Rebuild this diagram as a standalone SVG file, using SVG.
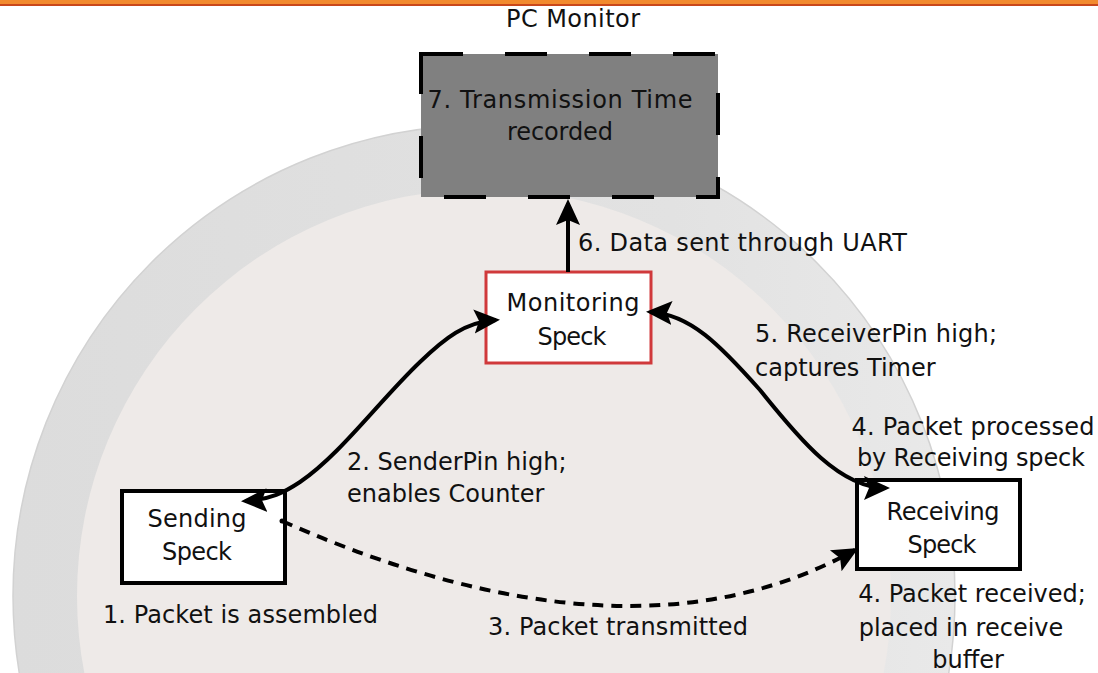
<svg xmlns="http://www.w3.org/2000/svg" width="1098" height="673" viewBox="0 0 1098 673">
<style>
  text { font-family: "DejaVu Sans", "Liberation Sans", sans-serif; font-size: 24px; fill: #111; }
  .mid { text-anchor: middle; }
  .box { fill: #fff; stroke: #000; stroke-width: 4; }
  .conn { fill: none; stroke: #000; stroke-width: 4; }
</style>
<defs>
  <linearGradient id="ring" x1="0" y1="0" x2="1" y2="0">
    <stop offset="0" stop-color="#dcdcdc"/>
    <stop offset="0.7" stop-color="#e2e2e2"/>
    <stop offset="1" stop-color="#e9e9e9"/>
  </linearGradient>
  <marker id="ah" markerUnits="userSpaceOnUse" markerWidth="28" markerHeight="28" refX="22" refY="12" orient="auto-start-reverse" viewBox="0 0 28 24">
    <path d="M0,0 L26,12 L0,24 L5,12 Z" fill="#000"/>
  </marker>
</defs>
<rect x="0" y="0" width="1098" height="673" fill="#fff"/>
<rect x="0" y="0" width="1098" height="4" fill="#f28a2e"/>
<rect x="0" y="4" width="1098" height="2" fill="#c9471b"/>
<g id="plate">
  <circle cx="484" cy="596" r="471" fill="url(#ring)" stroke="#d2d2d2" stroke-width="1.5"/>
  <circle cx="484" cy="596" r="407" fill="#eeeae8"/>
</g>
<g id="pc-monitor">
  <text class="mid" x="573" y="27" textLength="134">PC Monitor</text>
  <rect x="421" y="54" width="297" height="143" fill="#808080" stroke="#000" stroke-width="4" stroke-dasharray="42 42"/>
  <text class="mid" x="560" y="108" textLength="265">7. Transmission Time</text>
  <text class="mid" x="560" y="140" textLength="106">recorded</text>
</g>
<g id="monitoring-speck">
  <rect x="486" y="272" width="165" height="91" fill="#fff" stroke="#d0393b" stroke-width="3"/>
  <text class="mid" x="573" y="311" textLength="133">Monitoring</text>
  <text class="mid" x="572" y="345" textLength="69">Speck</text>
</g>
<g id="sending-speck">
  <rect class="box" x="122" y="491" width="163" height="92"/>
  <text class="mid" x="197" y="527" textLength="99">Sending</text>
  <text class="mid" x="197" y="560" textLength="70">Speck</text>
</g>
<g id="receiving-speck">
  <rect class="box" x="857" y="480" width="163" height="89"/>
  <text class="mid" x="943" y="520" textLength="113">Receiving</text>
  <text class="mid" x="942" y="553" textLength="69">Speck</text>
</g>
<g id="connectors">
  <path class="conn" d="M568,272 L568,203" marker-end="url(#ah)"/>
  <path class="conn" d="M245,501 C270,500 285,492 300,482 C340,455 380,400 420,362 C445,338 465,322 496,320" marker-start="url(#ah)" marker-end="url(#ah)"/>
  <path class="conn" d="M650,312 C690,314 720,345 760,390 C800,440 840,488 886,488" marker-start="url(#ah)" marker-end="url(#ah)"/>
  <circle cx="282" cy="521" r="2.5" fill="#000"/>
  <path class="conn" d="M282,521 Q630,675 855,550" stroke-dasharray="11 8" marker-end="url(#ah)"/>
</g>
<g id="labels">
  <text x="578" y="251" textLength="329">6. Data sent through UART</text>
  <text x="755" y="342" textLength="242">5. ReceiverPin high;</text>
  <text x="755" y="376">captures Timer</text>
  <text class="mid" x="973" y="435" textLength="243">4. Packet processed</text>
  <text class="mid" x="971" y="466" textLength="228">by Receiving speck</text>
  <text x="347" y="470">2. SenderPin high;</text>
  <text x="347" y="502">enables Counter</text>
  <text x="103" y="623" textLength="275">1. Packet is assembled</text>
  <text x="488" y="635" textLength="260">3. Packet transmitted</text>
  <text class="mid" x="972" y="602">4. Packet received;</text>
  <text class="mid" x="961" y="636">placed in receive</text>
  <text class="mid" x="968" y="668">buffer</text>
</g>
</svg>
